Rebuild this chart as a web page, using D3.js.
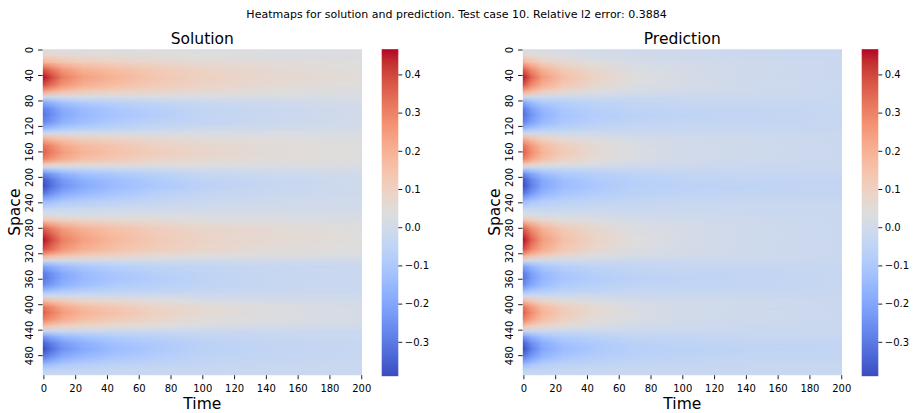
<!DOCTYPE html>
<html>
<head>
<meta charset="utf-8">
<script src="https://cdn.jsdelivr.net/npm/d3@7"></script>
<style>
  body { margin: 0; background: #fff; }
  svg text { font-family: "DejaVu Sans", sans-serif; fill: #000; }
</style>
</head>
<body>
<svg id="chart" width="913" height="413"></svg>
<script>
const spaceRows = [0, 10, 20, 30, 43, 56, 66, 74, 82, 92, 102, 114, 124, 131, 140, 150, 161, 172, 180, 186,
  194, 204, 214, 226, 238, 250, 260, 268, 280, 298, 314, 324, 331, 340, 350, 358, 370, 380, 387, 396,
  404, 413, 424, 434, 442, 450, 460, 470, 482, 494, 504, 511]
// time positions of each value in a row
const timeCols = [0, 5, 12, 25, 45, 70, 100, 145, 200]

const solution = [
  [0.03, 0.03, 0.03, 0.03, 0.03, 0.03, 0.03, 0.03, 0.03],
  [0.08, 0.08, 0.07, 0.06, 0.06, 0.05, 0.04, 0.03, 0.03],
  [0.20, 0.18, 0.15, 0.12, 0.10, 0.08, 0.06, 0.05, 0.04],
  [0.36, 0.31, 0.25, 0.19, 0.16, 0.12, 0.09, 0.06, 0.04],
  [0.46, 0.40, 0.31, 0.24, 0.19, 0.14, 0.10, 0.07, 0.05],
  [0.38, 0.33, 0.26, 0.20, 0.16, 0.12, 0.09, 0.06, 0.04],
  [0.22, 0.19, 0.15, 0.12, 0.10, 0.08, 0.06, 0.04, 0.03],
  [0.00, 0.00, 0.01, 0.01, 0.01, 0.02, 0.02, 0.02, 0.02],
  [-0.18, -0.15, -0.11, -0.08, -0.06, -0.04, -0.02, -0.01, 0.01],
  [-0.28, -0.24, -0.18, -0.14, -0.10, -0.07, -0.04, -0.02, 0.00],
  [-0.31, -0.26, -0.20, -0.15, -0.11, -0.08, -0.04, -0.02, 0.00],
  [-0.27, -0.23, -0.17, -0.13, -0.09, -0.06, -0.04, -0.02, 0.00],
  [-0.15, -0.12, -0.09, -0.07, -0.05, -0.03, -0.01, 0.00, 0.01],
  [0.00, 0.00, 0.00, 0.01, 0.01, 0.01, 0.02, 0.02, 0.02],
  [0.20, 0.17, 0.14, 0.11, 0.09, 0.07, 0.05, 0.04, 0.03],
  [0.32, 0.28, 0.22, 0.17, 0.14, 0.10, 0.07, 0.05, 0.04],
  [0.36, 0.31, 0.25, 0.19, 0.15, 0.11, 0.08, 0.05, 0.04],
  [0.30, 0.26, 0.21, 0.16, 0.13, 0.09, 0.07, 0.05, 0.04],
  [0.12, 0.10, 0.08, 0.07, 0.06, 0.05, 0.04, 0.03, 0.03],
  [-0.05, -0.04, -0.03, -0.02, -0.01, 0.00, 0.01, 0.01, 0.02],
  [-0.25, -0.21, -0.16, -0.12, -0.09, -0.06, -0.03, -0.01, 0.00],
  [-0.36, -0.30, -0.23, -0.17, -0.13, -0.09, -0.05, -0.03, -0.01],
  [-0.39, -0.32, -0.25, -0.19, -0.14, -0.10, -0.06, -0.03, -0.01],
  [-0.30, -0.25, -0.19, -0.15, -0.11, -0.07, -0.04, -0.02, -0.01],
  [-0.15, -0.13, -0.10, -0.08, -0.06, -0.04, -0.02, -0.01, 0.00],
  [-0.03, -0.03, -0.02, -0.02, -0.01, -0.01, 0.00, 0.00, 0.00],
  [0.02, 0.02, 0.02, 0.02, 0.02, 0.02, 0.02, 0.02, 0.01],
  [0.15, 0.13, 0.11, 0.09, 0.07, 0.06, 0.04, 0.03, 0.02],
  [0.35, 0.30, 0.24, 0.19, 0.15, 0.11, 0.08, 0.06, 0.04],
  [0.46, 0.40, 0.31, 0.24, 0.18, 0.13, 0.09, 0.06, 0.04],
  [0.38, 0.33, 0.26, 0.20, 0.15, 0.11, 0.08, 0.05, 0.04],
  [0.20, 0.17, 0.14, 0.11, 0.09, 0.06, 0.04, 0.03, 0.02],
  [0.00, 0.00, 0.00, 0.00, 0.00, 0.00, 0.00, 0.00, 0.00],
  [-0.20, -0.17, -0.13, -0.10, -0.07, -0.05, -0.04, -0.03, -0.02],
  [-0.29, -0.24, -0.19, -0.14, -0.10, -0.07, -0.05, -0.03, -0.02],
  [-0.31, -0.26, -0.20, -0.15, -0.11, -0.08, -0.05, -0.03, -0.02],
  [-0.26, -0.22, -0.17, -0.13, -0.09, -0.07, -0.05, -0.03, -0.02],
  [-0.12, -0.10, -0.08, -0.06, -0.05, -0.04, -0.03, -0.02, -0.02],
  [0.00, 0.00, 0.00, 0.00, 0.00, 0.00, -0.01, -0.01, -0.01],
  [0.20, 0.17, 0.14, 0.10, 0.08, 0.05, 0.03, 0.01, 0.00],
  [0.32, 0.28, 0.22, 0.17, 0.13, 0.09, 0.06, 0.03, 0.01],
  [0.36, 0.31, 0.25, 0.19, 0.15, 0.10, 0.06, 0.03, 0.01],
  [0.30, 0.26, 0.21, 0.16, 0.12, 0.08, 0.05, 0.03, 0.01],
  [0.15, 0.13, 0.10, 0.08, 0.06, 0.04, 0.02, 0.01, 0.00],
  [-0.02, -0.02, -0.02, -0.02, -0.02, -0.02, -0.02, -0.02, -0.02],
  [-0.22, -0.18, -0.14, -0.11, -0.08, -0.06, -0.04, -0.03, -0.02],
  [-0.34, -0.28, -0.22, -0.17, -0.12, -0.09, -0.06, -0.04, -0.03],
  [-0.39, -0.32, -0.25, -0.19, -0.14, -0.10, -0.06, -0.04, -0.03],
  [-0.30, -0.25, -0.19, -0.15, -0.11, -0.08, -0.05, -0.04, -0.03],
  [-0.15, -0.13, -0.10, -0.08, -0.06, -0.05, -0.04, -0.03, -0.02],
  [-0.05, -0.05, -0.04, -0.04, -0.03, -0.03, -0.03, -0.02, -0.02],
  [-0.02, -0.02, -0.02, -0.02, -0.02, -0.02, -0.02, -0.02, -0.02]
]

const prediction = [
  [0.02, 0.02, 0.01, 0.01, 0.00, -0.01, -0.01, -0.02, -0.02],
  [0.08, 0.07, 0.05, 0.03, 0.01, 0.00, -0.01, -0.02, -0.02],
  [0.20, 0.16, 0.11, 0.07, 0.04, 0.01, 0.00, -0.01, -0.02],
  [0.35, 0.27, 0.19, 0.12, 0.07, 0.03, 0.01, -0.01, -0.02],
  [0.45, 0.35, 0.25, 0.16, 0.09, 0.04, 0.01, -0.01, -0.02],
  [0.37, 0.28, 0.20, 0.13, 0.07, 0.03, 0.01, -0.01, -0.02],
  [0.21, 0.16, 0.11, 0.07, 0.03, 0.01, 0.00, -0.01, -0.02],
  [0.00, 0.00, -0.01, -0.01, -0.01, -0.02, -0.02, -0.02, -0.02],
  [-0.18, -0.13, -0.09, -0.07, -0.05, -0.04, -0.03, -0.03, -0.03],
  [-0.29, -0.21, -0.15, -0.10, -0.07, -0.05, -0.04, -0.04, -0.03],
  [-0.32, -0.24, -0.17, -0.11, -0.08, -0.06, -0.05, -0.04, -0.03],
  [-0.28, -0.21, -0.15, -0.10, -0.07, -0.05, -0.04, -0.04, -0.03],
  [-0.15, -0.11, -0.08, -0.06, -0.04, -0.03, -0.03, -0.03, -0.03],
  [0.00, 0.00, -0.01, -0.01, -0.01, -0.02, -0.02, -0.02, -0.02],
  [0.20, 0.15, 0.10, 0.06, 0.03, 0.01, 0.00, -0.01, -0.02],
  [0.32, 0.25, 0.17, 0.11, 0.06, 0.02, 0.00, -0.01, -0.02],
  [0.36, 0.28, 0.19, 0.12, 0.06, 0.03, 0.00, -0.01, -0.02],
  [0.30, 0.23, 0.16, 0.10, 0.05, 0.02, 0.00, -0.01, -0.02],
  [0.12, 0.09, 0.06, 0.04, 0.02, 0.00, -0.01, -0.02, -0.02],
  [-0.05, -0.04, -0.03, -0.03, -0.02, -0.02, -0.02, -0.02, -0.02],
  [-0.25, -0.19, -0.13, -0.09, -0.07, -0.05, -0.04, -0.03, -0.03],
  [-0.36, -0.27, -0.19, -0.13, -0.09, -0.07, -0.05, -0.04, -0.04],
  [-0.39, -0.29, -0.20, -0.14, -0.10, -0.07, -0.06, -0.05, -0.04],
  [-0.30, -0.23, -0.16, -0.11, -0.08, -0.06, -0.05, -0.04, -0.04],
  [-0.15, -0.11, -0.08, -0.06, -0.05, -0.04, -0.03, -0.03, -0.03],
  [-0.03, -0.03, -0.03, -0.03, -0.02, -0.02, -0.02, -0.02, -0.02],
  [0.02, 0.02, 0.01, 0.01, 0.00, -0.01, -0.01, -0.02, -0.02],
  [0.15, 0.12, 0.08, 0.05, 0.03, 0.01, 0.00, -0.01, -0.02],
  [0.35, 0.27, 0.19, 0.12, 0.07, 0.03, 0.01, -0.01, -0.02],
  [0.46, 0.36, 0.25, 0.16, 0.09, 0.04, 0.01, -0.01, -0.02],
  [0.38, 0.29, 0.21, 0.13, 0.07, 0.03, 0.01, -0.01, -0.02],
  [0.20, 0.15, 0.11, 0.07, 0.03, 0.01, 0.00, -0.01, -0.02],
  [0.00, 0.00, -0.01, -0.01, -0.01, -0.02, -0.02, -0.02, -0.02],
  [-0.20, -0.15, -0.10, -0.07, -0.05, -0.04, -0.03, -0.03, -0.03],
  [-0.29, -0.21, -0.15, -0.10, -0.07, -0.05, -0.04, -0.04, -0.03],
  [-0.31, -0.23, -0.16, -0.11, -0.08, -0.06, -0.05, -0.04, -0.03],
  [-0.26, -0.19, -0.14, -0.09, -0.07, -0.05, -0.04, -0.04, -0.03],
  [-0.12, -0.09, -0.07, -0.05, -0.04, -0.03, -0.03, -0.03, -0.03],
  [0.00, 0.00, -0.01, -0.01, -0.01, -0.02, -0.02, -0.02, -0.02],
  [0.20, 0.15, 0.10, 0.06, 0.03, 0.01, 0.00, -0.01, -0.02],
  [0.32, 0.25, 0.17, 0.11, 0.06, 0.02, 0.00, -0.01, -0.02],
  [0.36, 0.28, 0.19, 0.12, 0.06, 0.03, 0.00, -0.01, -0.02],
  [0.30, 0.23, 0.16, 0.10, 0.05, 0.02, 0.00, -0.01, -0.02],
  [0.15, 0.11, 0.08, 0.05, 0.02, 0.00, -0.01, -0.02, -0.02],
  [-0.02, -0.02, -0.02, -0.02, -0.02, -0.02, -0.02, -0.02, -0.02],
  [-0.22, -0.16, -0.11, -0.08, -0.06, -0.04, -0.04, -0.03, -0.03],
  [-0.34, -0.25, -0.18, -0.12, -0.09, -0.06, -0.05, -0.04, -0.04],
  [-0.39, -0.29, -0.20, -0.14, -0.10, -0.07, -0.06, -0.05, -0.04],
  [-0.30, -0.23, -0.16, -0.11, -0.08, -0.06, -0.05, -0.04, -0.04],
  [-0.15, -0.11, -0.08, -0.06, -0.05, -0.04, -0.04, -0.03, -0.03],
  [-0.05, -0.04, -0.04, -0.03, -0.03, -0.03, -0.03, -0.03, -0.03],
  [-0.02, -0.02, -0.02, -0.02, -0.02, -0.02, -0.02, -0.02, -0.02]
]

const spaceTicks = d3.range(0, 481, 40)
const timeTicks = d3.range(0, 201, 20)
const cbarTicks = [-0.3, -0.2, -0.1, 0.0, 0.1, 0.2, 0.3, 0.4]
const vmin = -0.39, vmax = 0.466

// matplotlib coolwarm, 33 samples
const coolwarm = ["#3b4cc0","#445acc","#4d68d7","#5775e1","#6282ea","#6c8ef1","#779af7","#82a5fb",
  "#8db0fe","#98b9ff","#a3c2ff","#aec9fd","#b8d0f9","#c2d5f4","#ccd9ee","#d5dbe6","#dddddd",
  "#e5d8d1","#ecd3c5","#f1ccb9","#f5c4ad","#f7bba0","#f7b194","#f7a687","#f49a7b","#f18d6f",
  "#ec7f63","#e57058","#de604d","#d55042","#cb3e38","#c0282f","#b40426"]

const svg = d3.select('#chart')
const defs = svg.append('defs')

const color = d3.scaleLinear()
  .domain(coolwarm.map((c, i) => vmin + (vmax - vmin) * i / (coolwarm.length - 1)))
  .range(coolwarm)
  .interpolate(d3.interpolateRgb)
  .clamp(true)

// vertical fade used to blend one row into the next
const fade = defs.append('linearGradient').attr('id', 'vfade')
  .attr('x1', 0).attr('y1', 0).attr('x2', 0).attr('y2', 1)
fade.append('stop').attr('offset', 0).attr('stop-color', '#000')
fade.append('stop').attr('offset', 1).attr('stop-color', '#fff')
defs.append('mask').attr('id', 'vmask').attr('maskContentUnits', 'objectBoundingBox')
  .append('rect').attr('width', 1).attr('height', 1).attr('fill', 'url(#vfade)')

const mapTop = 49.2, mapBottom = 375.2, mapW = 319.4
const panels = [
  {title: 'Solution', data: solution, left: 42.6},
  {title: 'Prediction', data: prediction, left: 522.6}
]

// suptitle
svg.append('text')
  .attr('x', 456.5).attr('y', 18)
  .attr('text-anchor', 'middle')
  .attr('font-size', 11)
  .text('Heatmaps for solution and prediction. Test case 10. Relative l2 error: 0.3884')

panels.forEach((p, pi) => {
  const x = d3.scaleLinear().domain([-0.5, 200.5]).range([p.left, p.left + mapW])
  const y = d3.scaleLinear().domain([-0.5, 511.5]).range([mapTop, mapBottom])

  //one horizontal gradient per row of read values
  const gx1 = x(timeCols[0]), gx2 = x(timeCols[timeCols.length - 1])
  p.data.forEach((row, i) => {
    const g = defs.append('linearGradient')
      .attr('id', `row${pi}_${i}`)
      .attr('gradientUnits', 'userSpaceOnUse')
      .attr('x1', gx1).attr('x2', gx2).attr('y1', 0).attr('y2', 0)
    row.forEach((v, j) => {
      g.append('stop')
        .attr('offset', (x(timeCols[j]) - gx1) / (gx2 - gx1))
        .attr('stop-color', color(v))
    })
  })

  defs.append('clipPath').attr('id', `clip${pi}`)
    .append('rect').attr('x', p.left).attr('y', mapTop).attr('width', mapW).attr('height', mapBottom - mapTop)

  const hm = svg.append('g').attr('clip-path', `url(#clip${pi})`)
  const n = spaceRows.length

  // edges above first row / below last row
  hm.append('rect').attr('x', p.left).attr('width', mapW)
    .attr('y', mapTop).attr('height', y(spaceRows[0]) - mapTop + 0.6)
    .attr('fill', `url(#row${pi}_0)`)
  for (let i = 0; i < n - 1; i++) {
    const ya = y(spaceRows[i]), yb = y(spaceRows[i + 1]) + 0.6
    hm.append('rect').attr('x', p.left).attr('width', mapW)
      .attr('y', ya).attr('height', yb - ya)
      .attr('fill', `url(#row${pi}_${i})`)
    hm.append('rect').attr('x', p.left).attr('width', mapW)
      .attr('y', ya).attr('height', yb - ya)
      .attr('fill', `url(#row${pi}_${i + 1})`)
      .attr('mask', 'url(#vmask)')
  }
  hm.append('rect').attr('x', p.left).attr('width', mapW)
    .attr('y', y(spaceRows[n - 1])).attr('height', mapBottom - y(spaceRows[n - 1]))
    .attr('fill', `url(#row${pi}_${n - 1})`)

  //axes
  const xAxis = svg.append('g')
    .attr('transform', `translate(0, ${mapBottom})`)
    .call(d3.axisBottom(x).tickValues(timeTicks).tickSize(4).tickPadding(5.5))
  xAxis.select('.domain').remove()
  xAxis.selectAll('line').attr('stroke', '#222')

  const yAxis = svg.append('g')
    .attr('transform', `translate(${p.left}, 0)`)
    .call(d3.axisLeft(y).tickValues(spaceTicks).tickSize(4.5))
  yAxis.select('.domain').remove()
  yAxis.selectAll('line').attr('stroke', '#222')
  yAxis.selectAll('text')
    .attr('x', 0).attr('y', -9.5).attr('dy', 0)
    .attr('text-anchor', 'middle')
    .attr('transform', 'rotate(-90)')

  svg.append('text')
    .attr('x', p.left + mapW / 2).attr('y', 43.5)
    .attr('text-anchor', 'middle').attr('font-size', 15.5)
    .text(p.title)
  svg.append('text')
    .attr('x', p.left + mapW / 2).attr('y', 408.5)
    .attr('text-anchor', 'middle').attr('font-size', 15.5)
    .text('Time')
  svg.append('text')
    .attr('transform', `translate(${p.left - 23}, ${(mapTop + mapBottom) / 2}) rotate(-90)`)
    .attr('text-anchor', 'middle').attr('font-size', 15.5)
    .text('Space')

  //colorbar
  const cbLeft = p.left + 339.1, cbW = 16.6
  const cbTop = 49.2, cbBottom = 376.2
  const cy = d3.scaleLinear().domain([vmin, vmax]).range([cbBottom, cbTop])
  const cg = defs.append('linearGradient').attr('id', `cbar${pi}`)
    .attr('gradientUnits', 'userSpaceOnUse')
    .attr('x1', 0).attr('x2', 0).attr('y1', cbBottom).attr('y2', cbTop)
  coolwarm.forEach((c, i) => {
    cg.append('stop').attr('offset', i / (coolwarm.length - 1)).attr('stop-color', c)
  })
  svg.append('rect')
    .attr('x', cbLeft).attr('y', cbTop).attr('width', cbW).attr('height', cbBottom - cbTop)
    .attr('fill', `url(#cbar${pi})`)
  const cAxis = svg.append('g')
    .attr('transform', `translate(${cbLeft + cbW}, 0)`)
    .call(d3.axisRight(cy).tickValues(cbarTicks).tickSize(4).tickPadding(2.5).tickFormat(d3.format('.1f')))
  cAxis.select('.domain').remove()
  cAxis.selectAll('line').attr('stroke', '#222')
})
</script>
</body>
</html>
